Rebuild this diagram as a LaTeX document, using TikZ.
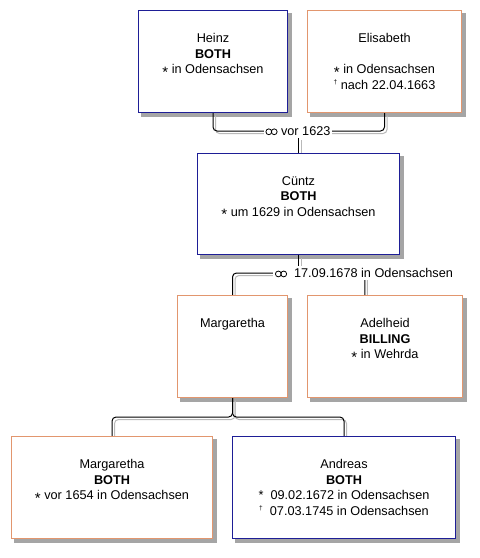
\documentclass[tikz,border=0pt]{standalone}
\usepackage{fontspec}
\setmainfont{Liberation Sans}
\usetikzlibrary{calc}
\definecolor{boxblue}{RGB}{30,30,150}
\definecolor{boxorange}{RGB}{226,150,110}
\definecolor{shadowgray}{RGB}{165,165,165}
\definecolor{linegray}{RGB}{185,185,185}
\pgfdeclarelayer{bg}\pgfdeclarelayer{mid}\pgfsetlayers{bg,mid,main}
\newcommand\birth{\raisebox{-0.28em}{\fontsize{15}{15}\selectfont *}}
\newcommand\death{{\fontsize{6.5}{6.5}\selectfont\raisebox{5pt}{†}}}
\newcommand\marr{\tikz[baseline={(0,0)}, x=1pt, y=1pt, line width=0.8pt]{%
  \draw (3.2,3.6) circle[radius=2.9]; \draw (8.6,3.6) circle[radius=2.9];}}
\newcommand\famline[1]{%
  \begin{pgfonlayer}{mid}
  \draw[connshadow, transform canvas={xshift=2.5pt,yshift=-2.5pt}] #1;
  \draw[conn] #1;
  \end{pgfonlayer}}
\newcommand\shadowbox[1]{%
  \begin{pgfonlayer}{bg}
  \fill[shadowgray] ($(#1.south west)+(3.5,3.5)$) rectangle ($(#1.north east)+(3.5,3.5)$);
  \end{pgfonlayer}}
\tikzset{
  person/.style={draw, fill=white, line width=1.1pt, inner sep=0},
  male/.style={person, draw=boxblue},
  female/.style={person, draw=boxorange},
  ptext/.style={anchor=north, align=center, inner sep=0, yshift=-23pt,
    font=\fontsize{12.7}{15.7}\selectfont},
  conn/.style={draw=black, line width=1pt, rounded corners=4pt},
  connshadow/.style={draw=linegray, line width=1pt, rounded corners=4pt},
  mlabel/.style={fill=white, inner sep=2pt, font=\fontsize{12.7}{15}\selectfont}
}
\begin{document}
\begin{tikzpicture}[x=1pt, y=-1pt]
\useasboundingbox (0,0) rectangle (480,558);
% persons
\node[male, minimum width=149pt, minimum height=102pt] (heinz) at (213,61.5) {};
\node[female, minimum width=154pt, minimum height=102pt] (elis) at (384.5,61.5) {};
\node[male, minimum width=202pt, minimum height=101pt] (cuentz) at (298.5,204) {};
\node[female, minimum width=110pt, minimum height=102pt] (marg) at (232.5,346.5) {};
\node[female, minimum width=155pt, minimum height=102pt] (adel) at (385,346.5) {};
\node[female, minimum width=201pt, minimum height=102pt] (margc) at (112,487.5) {};
\node[male, minimum width=223pt, minimum height=102pt] (andr) at (344,487.5) {};
\shadowbox{heinz}\shadowbox{elis}\shadowbox{cuentz}\shadowbox{marg}
\shadowbox{adel}\shadowbox{margc}\shadowbox{andr}
% texts
\node[ptext] (heinzT) at (heinz.north) {Heinz\\\textbf{BOTH}\\\birth\ in Odensachsen};
\node[ptext] (elisT) at (elis.north) {Elisabeth\\\mbox{}\\\birth\ in Odensachsen\\\death\ nach 22.04.1663};
\node[ptext] (cuentzT) at (cuentz.north) {Cüntz\\\textbf{BOTH}\\\birth\ um 1629 in Odensachsen};
\node[ptext] (margT) at (marg.north) {Margaretha};
\node[ptext] (adelT) at (adel.north) {Adelheid\\\textbf{BILLING}\\\birth\ in Wehrda};
\node[ptext] (margcT) at (margc.north) {Margaretha\\\textbf{BOTH}\\\birth\ vor 1654 in Odensachsen};
\node[ptext] (andrT) at (andr.north) {Andreas\\\textbf{BOTH}\\*\ \ 09.02.1672 in Odensachsen\\\death\ \ 07.03.1745 in Odensachsen};
% marriage labels
\node[mlabel] (m1) at (298,131) {\marr\ vor 1623};
\node[mlabel] (m2) at (364,273) {\marr\ \ 17.09.1678 in Odensachsen};
\coordinate (adelIn) at ([xshift=58pt]adel.north west);
\path (marg.south) ++(0,19) coordinate (jn);
% connectors
\famline{(heinz.south) |- (m1.center) -| (elis.south)}
\famline{(m1.south -| cuentz.north) -- (cuentz.north)}
\famline{(cuentz.south) -- (cuentz.south |- m2.center)}
\famline{(marg.north) |- (m2.center) -| (adelIn)}
\famline{(marg.south) -- (jn) -| (margc.north)}
\famline{(marg.south) -- (jn) -| (andr.north)}
\end{tikzpicture}
\end{document}
